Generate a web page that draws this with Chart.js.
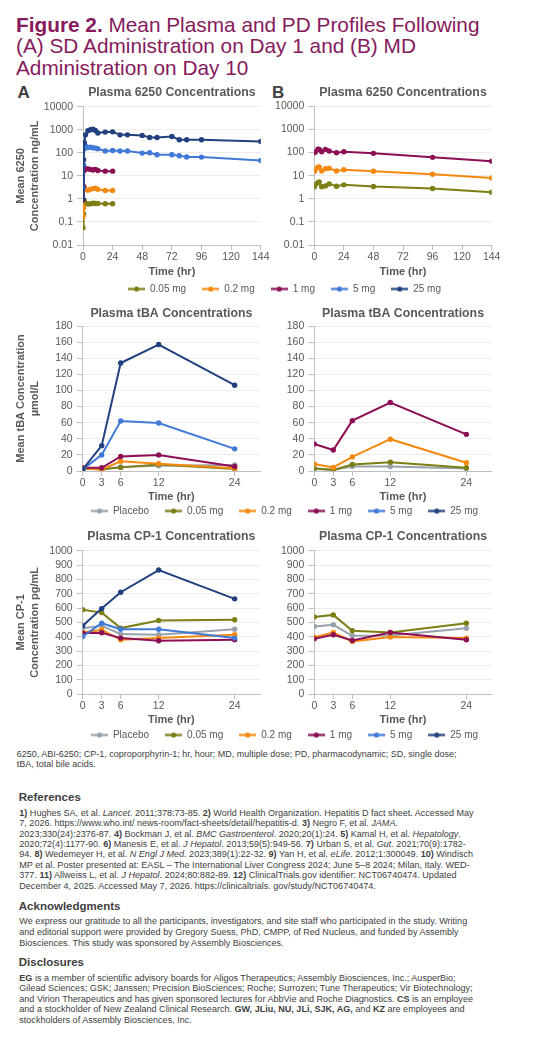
<!DOCTYPE html>
<html><head><meta charset="utf-8">
<script src="https://cdn.jsdelivr.net/npm/chart.js@4.4.1/dist/chart.umd.min.js"></script>
<style>
html,body{margin:0;padding:0;background:#fff;}
body{width:554px;height:1041px;position:relative;overflow:hidden;font-family:'Liberation Sans',Arial,sans-serif;}
.abs{position:absolute;white-space:nowrap;}
canvas{position:absolute;}
#title{left:16px;top:13.5px;font-size:20.8px;line-height:21.7px;color:#861A5C;}
.panel{font-size:17px;line-height:17px;font-weight:bold;color:#404040;}
.body{color:#404040;}
.head{font-size:11.5px;line-height:14px;font-weight:bold;color:#404040;}
</style></head><body>
<div id="title" class="abs"><b>Figure 2.</b> Mean Plasma and PD Profiles Following<br>(A) SD Administration on Day 1 and (B) MD<br>Administration on Day 10</div>
<div class="abs panel" style="left:17.5px;top:83.8px;">A</div>
<div class="abs panel" style="left:272px;top:83.8px;">B</div>

<div class="abs body" style="left:16.7px;top:748.7px;font-size:9px;line-height:10.5px;">6250, ABI-6250; CP-1, coproporphyrin-1; hr, hour; MD, multiple dose; PD, pharmacodynamic; SD, single dose;<br>tBA, total bile acids.</div>

<div class="abs head" style="left:18.8px;top:789.7px;">References</div>
<div class="abs body" style="left:19.3px;top:808.1px;font-size:9.05px;line-height:10.35px;"><b>1)</b> Hughes SA, et al. <i>Lancet</i>. 2011;378:73-85. <b>2)</b> World Health Organization. Hepatitis D fact sheet. Accessed May<br>7, 2026. https://www.who.int/ news-room/fact-sheets/detail/hepatitis-d. <b>3)</b> Negro F, et al. <i>JAMA</i>.<br>2023;330(24):2376-87. <b>4)</b> Bockman J, et al. <i>BMC Gastroenterol</i>. 2020;20(1):24. <b>5)</b> Kamal H, et al. <i>Hepatology</i>.<br>2020;72(4):1177-90. <b>6)</b> Manesis E, et al. <i>J Hepatol</i>. 2013;59(5):949-56. <b>7)</b> Urban S, et al. <i>Gut</i>. 2021;70(9):1782-<br>94. <b>8)</b> Wedemeyer H, et al. <i>N Engl J Med</i>. 2023;389(1):22-32. <b>9)</b> Yan H, et al. <i>eLife</i>. 2012;1:300049. <b>10)</b> Windisch<br>MP et al. Poster presented at: EASL – The International Liver Congress 2024; June 5–8 2024; Milan, Italy. WED-<br>377. <b>11)</b> Allweiss L, et al. <i>J Hepatol</i>. 2024;80:882-89. <b>12)</b> ClinicalTrials.gov identifier: NCT06740474. Updated<br>December 4, 2025. Accessed May 7, 2026. https://clinicaltrials. gov/study/NCT06740474.</div>

<div class="abs head" style="left:18.8px;top:898.7px;">Acknowledgments</div>
<div class="abs body" style="left:19.3px;top:916.4px;font-size:9.05px;line-height:10.6px;">We express our gratitude to all the participants, investigators, and site staff who participated in the study. Writing<br>and editorial support were provided by Gregory Suess, PhD, CMPP, of Red Nucleus, and funded by Assembly<br>Biosciences. This study was sponsored by Assembly Biosciences.</div>

<div class="abs head" style="left:18.8px;top:955.3px;">Disclosures</div>
<div class="abs body" style="left:19.3px;top:973px;font-size:9.05px;line-height:10.45px;"><b>EG</b> is a member of scientific advisory boards for Aligos Therapeutics; Assembly Biosciences, Inc.; AusperBio;<br>Gilead Sciences; GSK; Janssen; Precision BioSciences; Roche; Surrozen; Tune Therapeutics; Vir Biotechnology;<br>and Virion Therapeutics and has given sponsored lectures for AbbVie and Roche Diagnostics. <b>CS</b> is an employee<br>and a stockholder of New Zealand Clinical Research. <b>GW, JLiu, NU, JLi, SJK, AG,</b> and <b>KZ</b> are employees and<br>stockholders of Assembly Biosciences, Inc.</div>

<script>
// ---------------- DATA ----------------
const logTicks = [0.01, 0.1, 1, 10, 100, 1000, 10000];
const pkTicksX = [0, 24, 48, 72, 96, 120, 144];
const pdTicksX = [0, 3, 6, 12, 24];

// Panel A plasma ABI-6250 (single dose, Day 1)
const sdTimesHigh = [0, 0.5, 1, 2, 4, 6, 8, 10, 12, 18, 24, 30, 36, 48, 54, 60, 72, 78, 84, 96, 144];
const sd25mg = [1, 50, 280, 600, 900, 1000, 1060, 930, 720, 790, 810, 600, 600, 570, 460, 460, 510, 370, 370, 370, 310];
const sd5mg  = [3, 30, 150, 200, 170, 175, 165, 160, 150, 120, 125, 120, 120, 97, 100, 82, 82, 74, 66, 65, 46];
const sdTimesLow = [0, 0.5, 1, 2, 4, 6, 8, 10, 12, 18, 24];
const sd1mg   = [0.9, 3.5, 17, 21, 20, 19, 18, 19, 17, 16, 16];
const sd02mg  = [0.17, 0.4, 3.2, 2.6, 2.4, 2.6, 2.8, 2.9, 2.6, 2.3, 2.3];
const sd005mg = [0.056, 0.22, 0.85, 0.65, 0.6, 0.62, 0.65, 0.63, 0.63, 0.62, 0.62];

// Panel B plasma ABI-6250 (multiple dose, Day 10)
const mdTimes = [0, 1, 3, 4, 6, 9, 12, 18, 24, 48, 96, 144];
const md1mg   = [98, 108, 140, 137, 108, 137, 116, 98, 108, 92, 62, 42];
const md02mg  = [15, 19, 23, 24, 16, 20, 21, 16, 18, 15.5, 11.5, 8];
const md005mg = [3.3, 4.2, 5, 5.4, 3.3, 3.6, 4.4, 3.5, 4, 3.4, 2.8, 1.9];

// PD sampling times (hr)
const pdTimes = [0, 3, 6, 12, 24];

// tBA, umol/L
const tbaA_placebo = [3, 2.5, 5, 6.5, 7.5];
const tbaA_005 = [3, 2, 4.5, 8, 2.5];
const tbaA_02  = [3.5, 2, 12, 9, 3.5];
const tbaA_1   = [4, 4, 18, 20, 5.5];
const tbaA_5   = [2, 20, 62, 59.5, 27.5];
const tbaA_25  = [2, 31.5, 134, 157, 106.5];
const tbaB_placebo = [2.5, 1.5, 5.5, 5.5, 3];
const tbaB_005 = [3.3, 1.2, 8, 11, 4];
const tbaB_02  = [8.7, 4.5, 17.5, 39.5, 10.3];
const tbaB_1   = [33.5, 26, 62.5, 85, 45.5];

// CP-1, pg/mL
const cpA_placebo = [459, 476, 418, 413, 452];
const cpA_005 = [588, 568, 460, 513, 518];
const cpA_02  = [429, 448, 378, 390, 413];
const cpA_1   = [425, 427, 390, 372, 378];
const cpA_5   = [401, 494, 452, 452, 390];
const cpA_25  = [476, 596, 710, 865, 664];
const cpB_placebo = [471, 483, 406, 408, 459];
const cpB_005 = [538, 552, 441, 429, 494];
const cpB_02  = [397, 429, 367, 397, 390];
const cpB_1   = [385, 413, 374, 429, 378];

const groupLabels = ['Placebo', '0.05 mg', '0.2 mg', '1 mg', '5 mg', '25 mg'];

// ---------------- STYLE ----------------
const COL = {'Placebo':'#98A2AC','0.05 mg':'#7D7E14','0.2 mg':'#F5890F','1 mg':'#8C0F55','5 mg':'#4079D6','25 mg':'#21407F'};
const FONT = "'Liberation Sans', Arial, sans-serif";
Chart.defaults.font.family = FONT;
Chart.defaults.color = '#595959';
const AXIS = '#BFBFBF', GRID = '#EDEDED', TXT = '#595959';

function series(label, xs, ys, idx) {
  return {
    label, data: xs.map((x, i) => ({x, y: ys[i]})),
    borderColor: COL[label], backgroundColor: COL[label],
    pointBackgroundColor: COL[label], pointBorderColor: COL[label],
    pointRadius: 2.7, pointBorderWidth: 0, borderWidth: 2, tension: 0,
    order: -idx
  };
}

function makeChart(L, datasets) {
  const cv = document.createElement('canvas');
  const height = L.plotBottom + 35 - L.top;
  cv.width = L.width; cv.height = height;
  cv.style.left = L.left + 'px'; cv.style.top = L.top + 'px';
  cv.style.width = L.width + 'px'; cv.style.height = height + 'px';
  document.body.appendChild(cv);
  const tLH = 12.3 * 1.2;
  const padTop = L.titleY - L.top - tLH / 2;
  const padBot = (L.plotTop - L.top) - padTop - tLH;
  const xLH = 11 * 1.2;
  const xTitlePad = (L.plotBottom + 35) - L.xTitleY - xLH / 2;
  const yW = L.plotLeft - L.left;
  const isLog = L.log;
  new Chart(cv, {
    type: 'line',
    data: {datasets},
    options: {
      responsive: false, animation: false, devicePixelRatio: 1,
      layout: {padding: {left: 0, top: 0, bottom: 0, right: L.left + L.width - L.plotRight}},
      plugins: {
        legend: {display: false}, tooltip: {enabled: false},
        title: {display: true, text: L.title, fullSize: false, color: TXT,
          font: {size: 12.3, weight: 'bold', lineHeight: 1.2},
          padding: {top: padTop, bottom: padBot}}
      },
      scales: {
        x: {
          type: 'linear', min: 0, max: L.xMax,
          afterBuildTicks: s => { s.ticks = L.xTicks.map(v => ({value: v})); },
          afterFit: s => { s.height = 35; },
          grid: {display: true, drawOnChartArea: false, drawTicks: true, tickLength: 5, tickColor: AXIS},
          border: {display: true, color: AXIS, width: 1},
          ticks: {color: TXT, font: {size: 10.5, lineHeight: 1.2}, padding: 0.5, maxRotation: 0, autoSkip: false},
          title: {display: true, text: 'Time (hr)', color: TXT, font: {size: 11, weight: 'bold', lineHeight: 1.2}, padding: {top: 0, bottom: xTitlePad}}
        },
        y: {
          type: isLog ? 'logarithmic' : 'linear',
          min: L.yMin, max: L.yMax,
          afterBuildTicks: s => { s.ticks = L.yTicks.map(v => ({value: v})); },
          afterFit: s => { s.width = yW; },
          grid: {display: true, color: GRID, drawTicks: true, tickLength: 6, tickColor: AXIS},
          border: {display: true, color: AXIS, width: 1},
          ticks: {color: TXT, font: {size: 10.5, lineHeight: 1.2}, padding: 4, autoSkip: false,
            callback: v => String(v)},
          title: {display: !!L.yTitle, text: L.yTitle || '', color: TXT,
            font: {size: 11, weight: 'bold', lineHeight: 1.27}, padding: {top: 14, bottom: 0}}
        }
      }
    }
  });
}

function markerImg(color) {
  const c = document.createElement('canvas');
  c.width = 17; c.height = 7;
  const g = c.getContext('2d');
  g.strokeStyle = color; g.lineWidth = 2.2;
  g.beginPath(); g.moveTo(0, 3.5); g.lineTo(17, 3.5); g.stroke();
  g.fillStyle = color; g.beginPath(); g.arc(8.5, 3.5, 2.6, 0, Math.PI * 2); g.fill();
  return c;
}

function makeLegend(centerY, labels) {
  const cv = document.createElement('canvas');
  const h = 120, top = centerY - 21;
  cv.width = 554; cv.height = h;
  cv.style.left = '0px'; cv.style.top = top + 'px';
  cv.style.width = '554px'; cv.style.height = h + 'px';
  document.body.appendChild(cv);
  new Chart(cv, {
    type: 'line',
    data: {datasets: labels.map(l => ({label: l, data: [], borderColor: COL[l], backgroundColor: COL[l]}))},
    options: {
      responsive: false, animation: false, devicePixelRatio: 1,
      layout: {padding: {left: 15, right: 0, top: 0, bottom: 0}},
      scales: {x: {display: false}, y: {display: false}},
      plugins: {
        tooltip: {enabled: false},
        legend: {display: true, position: 'top', align: 'center',
          labels: {usePointStyle: true, pointStyleWidth: 17, boxHeight: 10, padding: 16,
            color: TXT, font: {size: 10},
            generateLabels: ch => ch.data.datasets.map((d, i) => ({
              text: d.label, pointStyle: markerImg(d.borderColor), fillStyle: d.borderColor,
              strokeStyle: d.borderColor, lineWidth: 0, hidden: false, datasetIndex: i, fontColor: TXT}))
          }}
      }
    }
  });
}

const A = {left: 0, width: 270}, B = {left: 270, width: 284};

// Row 1: plasma ABI-6250
makeChart(Object.assign({}, A, {top: 80, plotLeft: 83, plotRight: 261, plotTop: 106.7, plotBottom: 245, titleY: 92.3, xTitleY: 271.7,
  title: 'Plasma 6250 Concentrations', log: true, yMin: 0.01, yMax: 10000, yTicks: logTicks, xMax: 144, xTicks: pkTicksX,
  yTitle: ['Mean 6250', 'Concentration ng/mL']}), [
  series('0.05 mg', sdTimesLow, sd005mg, 1),
  series('0.2 mg', sdTimesLow, sd02mg, 2),
  series('1 mg', sdTimesLow, sd1mg, 3),
  series('5 mg', sdTimesHigh, sd5mg, 4),
  series('25 mg', sdTimesHigh, sd25mg, 5)
]);
makeChart(Object.assign({}, B, {top: 80, plotLeft: 314.3, plotRight: 491.7, plotTop: 106.3, plotBottom: 245, titleY: 92.3, xTitleY: 271.7,
  title: 'Plasma 6250 Concentrations', log: true, yMin: 0.01, yMax: 10000, yTicks: logTicks, xMax: 144, xTicks: pkTicksX}), [
  series('0.05 mg', mdTimes, md005mg, 1),
  series('0.2 mg', mdTimes, md02mg, 2),
  series('1 mg', mdTimes, md1mg, 3)
]);
makeLegend(289, groupLabels.slice(1));

// Row 2: tBA
const tbaTicks = [0, 20, 40, 60, 80, 100, 120, 140, 160, 180];
makeChart(Object.assign({}, A, {top: 300, plotLeft: 82.7, plotRight: 260, plotTop: 326, plotBottom: 471, titleY: 314, xTitleY: 496.7,
  title: 'Plasma tBA Concentrations', yMin: 0, yMax: 180, yTicks: tbaTicks, xMax: 28, xTicks: pdTicksX,
  yTitle: ['Mean tBA Concentration', 'µmol/L']}), [
  series('Placebo', pdTimes, tbaA_placebo, 0),
  series('0.05 mg', pdTimes, tbaA_005, 1),
  series('0.2 mg', pdTimes, tbaA_02, 2),
  series('1 mg', pdTimes, tbaA_1, 3),
  series('5 mg', pdTimes, tbaA_5, 4),
  series('25 mg', pdTimes, tbaA_25, 5)
]);
makeChart(Object.assign({}, B, {top: 300, plotLeft: 314.3, plotRight: 491.7, plotTop: 326, plotBottom: 471, titleY: 314, xTitleY: 496.7,
  title: 'Plasma tBA Concentrations', yMin: 0, yMax: 180, yTicks: tbaTicks, xMax: 28, xTicks: pdTicksX}), [
  series('Placebo', pdTimes, tbaB_placebo, 0),
  series('0.05 mg', pdTimes, tbaB_005, 1),
  series('0.2 mg', pdTimes, tbaB_02, 2),
  series('1 mg', pdTimes, tbaB_1, 3)
]);
makeLegend(511, groupLabels);

// Row 3: CP-1
const cpTicks = [0, 100, 200, 300, 400, 500, 600, 700, 800, 900, 1000];
makeChart(Object.assign({}, A, {top: 520, plotLeft: 82.7, plotRight: 260, plotTop: 550.7, plotBottom: 694.3, titleY: 536.7, xTitleY: 720,
  title: 'Plasma CP-1 Concentrations', yMin: 0, yMax: 1000, yTicks: cpTicks, xMax: 28, xTicks: pdTicksX,
  yTitle: ['Mean CP-1', 'Concentration pg/mL']}), [
  series('Placebo', pdTimes, cpA_placebo, 0),
  series('0.05 mg', pdTimes, cpA_005, 1),
  series('0.2 mg', pdTimes, cpA_02, 2),
  series('1 mg', pdTimes, cpA_1, 3),
  series('5 mg', pdTimes, cpA_5, 4),
  series('25 mg', pdTimes, cpA_25, 5)
]);
makeChart(Object.assign({}, B, {top: 520, plotLeft: 314.3, plotRight: 491.7, plotTop: 550.7, plotBottom: 694.3, titleY: 536.7, xTitleY: 720,
  title: 'Plasma CP-1 Concentrations', yMin: 0, yMax: 1000, yTicks: cpTicks, xMax: 28, xTicks: pdTicksX}), [
  series('Placebo', pdTimes, cpB_placebo, 0),
  series('0.05 mg', pdTimes, cpB_005, 1),
  series('0.2 mg', pdTimes, cpB_02, 2),
  series('1 mg', pdTimes, cpB_1, 3)
]);
makeLegend(735, groupLabels);
</script>
</body></html>
